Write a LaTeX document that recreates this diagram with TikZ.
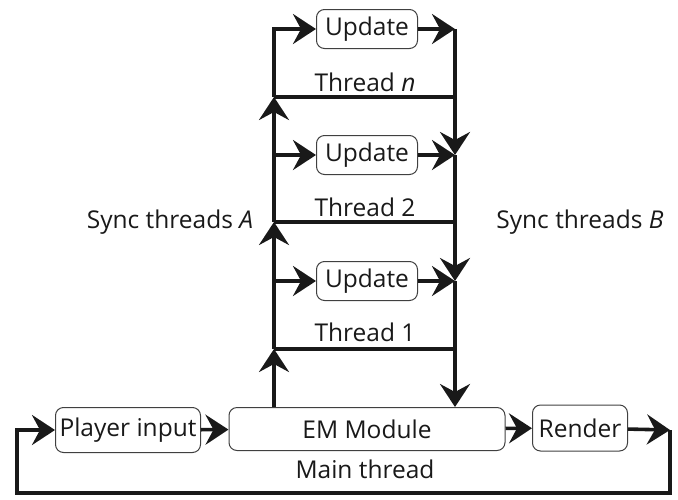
\documentclass[tikz,border=0pt]{standalone}
\usepackage{fontspec}
\setmainfont{Open Sans}
\usetikzlibrary{arrows.meta}

\begin{document}
\begin{tikzpicture}[x=1pt,y=-1pt,
    box/.style={draw=black!75, line width=1pt, rounded corners=8pt, inner sep=0pt},
    wire/.style={line width=3.6pt, black!90},
    flow/.style={wire, -{Stealth[length=23pt 0 0,width=30pt 0,inset=8pt]}},
    lbl/.style={inner sep=0pt}]
  \useasboundingbox (0,0) rectangle (678,499);
  \tikzset{every node/.append style={font=\fontsize{24.5}{28}\selectfont, text=black!90}}

  % update boxes of the worker threads
  \node[box, minimum width=101pt, minimum height=39pt] (updn) at (367,29) {Update};
  \node[box, minimum width=101pt, minimum height=39pt] (upd2) at (367,155) {Update};
  \node[box, minimum width=101pt, minimum height=39pt] (upd1) at (367,281) {Update};
  \node[lbl] (thrn) at (365,82) {Thread \textit{n}};
  \node[lbl] (thr2) at (365,207) {Thread 2};
  \node[lbl] (thr1) at (365,332) {Thread 1};
  \node[lbl] (synca) at (170,222) {Sync threads \textit{A}};
  \node[lbl] (syncb) at (580,222) {Sync threads \textit{B}};

  % main thread
  \node[box, minimum width=145pt, minimum height=45pt] (player) at (128,430) {Player input};
  \node[box, minimum width=276pt, minimum height=43pt] (em) at (367,429) {EM Module};
  \node[box, minimum width=95pt, minimum height=46pt] (render) at (580,428) {Render};
  \node[lbl] (mainthr) at (365,469) {Main thread};

  % corners of the thread frames
  \coordinate (l1) at (274,349); \coordinate (r1) at (455,349);
  \coordinate (l2) at (274,222); \coordinate (r2) at (455,222);
  \coordinate (l3) at (274,97);  \coordinate (r3) at (455,97);
  \coordinate (tl) at (274,29);  \coordinate (tr) at (455,29);
  \coordinate (rc) at (670,430);
  \coordinate (br) at (670,493); \coordinate (bl) at (17,493);

  % left side, going up
  \draw[flow] (em.north -| l1) -- (l1);
  \draw[flow] (l1) -- (l2);
  \draw[flow] (l2) -- (l3);
  \draw[flow] (l3) -- (tl) -- (updn);
  \draw[wire] (l1) -- (r1);
  \draw[wire] (l2) -- (r2);
  \draw[wire] (l3) -- (r3);
  \draw[flow] (l1 |- upd2) -- (upd2);
  \draw[flow] (l1 |- upd1) -- (upd1);
  \draw[flow] (updn) -- (tr);
  \draw[flow] (upd2) -- (r1 |- upd2);
  \draw[flow] (upd1) -- (r1 |- upd1);

  % right side, going down
  \draw[flow] (tr) -- (r1 |- upd2);
  \draw[flow] (r1 |- upd2) -- (r1 |- upd1);
  \draw[flow] (r1 |- upd1) -- (r1 |- em.north);

  % main loop
  \draw[flow] (player) -- (em);
  \draw[flow] (em) -- (render);
  \draw[flow] (render) -- (rc);
  \draw[flow] (rc) -- (br) -- (bl) |- (player);
\end{tikzpicture}
\end{document}
